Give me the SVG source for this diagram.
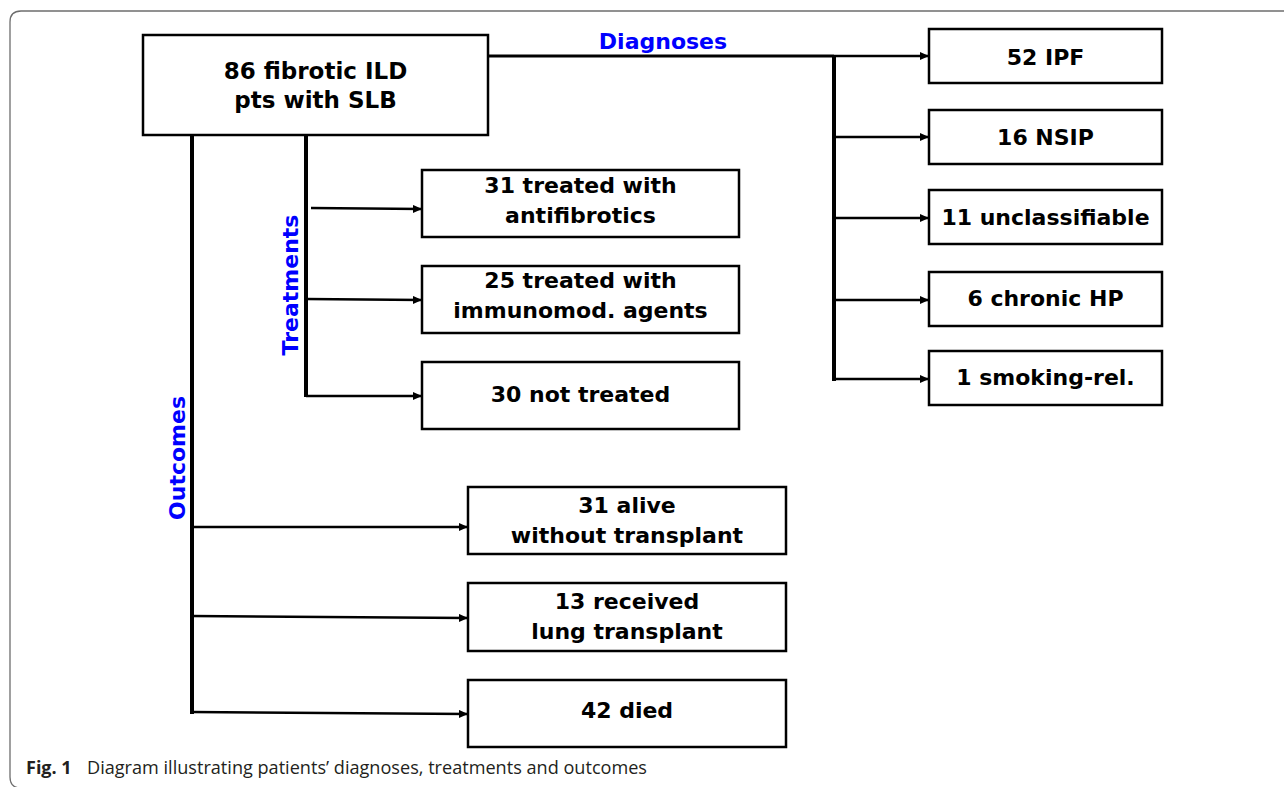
<svg xmlns="http://www.w3.org/2000/svg" width="1284" height="787" viewBox="0 0 1284 787">
<style>
.box{fill:#fff;stroke:#000;stroke-width:2.5}
.t{font-family:"DejaVu Sans",Verdana,sans-serif;font-weight:bold;font-size:22px;fill:#000;text-anchor:middle}
.lbl{font-family:"DejaVu Sans",Verdana,sans-serif;font-weight:bold;font-size:22px;fill:#0000ff;text-anchor:middle}
.trunk{stroke:#000;stroke-width:4;fill:none}
.arr{stroke:#000;stroke-width:2.5;fill:none;marker-end:url(#ah)}
.cap{font-family:"Open Sans","Noto Sans",sans-serif;font-size:18px;fill:#231f20}
</style>
<defs>
<marker id="ah" markerUnits="userSpaceOnUse" markerWidth="10" markerHeight="8" refX="9" refY="4" orient="auto">
<path d="M0,0 L9,4 L0,8 Z" fill="#000"/>
</marker>
</defs>
<rect width="1284" height="787" fill="#fff"/>
<path d="M1284,11 H21 Q10,11 10,22 V777 Q10,788 21,788" fill="none" stroke="#6d6d6d" stroke-width="1.3"/>

<g id="connectors">
<line class="trunk" x1="488" y1="56" x2="834" y2="56" style="stroke-width:3"/>
<path class="arr" d="M834,56 H929"/>
<line class="trunk" x1="834" y1="56" x2="834" y2="381"/>
<path class="arr" d="M834,137 H929"/>
<path class="arr" d="M834,218 H929"/>
<path class="arr" d="M834,300 H929"/>
<path class="arr" d="M834,379 H929"/>
<line class="trunk" x1="306" y1="135" x2="306" y2="397"/>
<path class="arr" d="M311,208 L422,209"/>
<path class="arr" d="M306,299 L422,300"/>
<path class="arr" d="M306,396 H422"/>
<line class="trunk" x1="192" y1="135" x2="192" y2="714"/>
<path class="arr" d="M192,527 H468"/>
<path class="arr" d="M192,616 L468,618"/>
<path class="arr" d="M192,712 L468,714"/>
</g>

<g id="labels">
<text class="lbl" x="663" y="49">Diagnoses</text>
<text class="lbl" transform="translate(298,285) rotate(-90)">Treatments</text>
<text class="lbl" transform="translate(185,458) rotate(-90)">Outcomes</text>
</g>

<g id="n-main">
<rect class="box" x="143" y="35" width="345" height="100"/>
<text class="t" x="315.5" y="79" style="font-size:23px">86 fibrotic ILD</text>
<text class="t" x="315.5" y="108" style="font-size:23px">pts with SLB</text>
</g>

<g id="n-ipf">
<rect class="box" x="929" y="29" width="233" height="54"/>
<text class="t" x="1045.5" y="65">52 IPF</text>
</g>
<g id="n-nsip">
<rect class="box" x="929" y="110" width="233" height="54"/>
<text class="t" x="1045.5" y="145">16 NSIP</text>
</g>
<g id="n-unclass">
<rect class="box" x="929" y="190" width="233" height="54"/>
<text class="t" x="1045.5" y="225">11 unclassifiable</text>
</g>
<g id="n-hp">
<rect class="box" x="929" y="272" width="233" height="54"/>
<text class="t" x="1045.5" y="306">6 chronic HP</text>
</g>
<g id="n-smoking">
<rect class="box" x="929" y="351" width="233" height="54"/>
<text class="t" x="1045.5" y="385">1 smoking-rel.</text>
</g>

<g id="n-antifib">
<rect class="box" x="422" y="170" width="317" height="67"/>
<text class="t" x="580.5" y="193">31 treated with</text>
<text class="t" x="580.5" y="223">antifibrotics</text>
</g>
<g id="n-immuno">
<rect class="box" x="422" y="266" width="317" height="67"/>
<text class="t" x="580.5" y="288">25 treated with</text>
<text class="t" x="580.5" y="318">immunomod. agents</text>
</g>
<g id="n-nottreated">
<rect class="box" x="422" y="362" width="317" height="67"/>
<text class="t" x="580.5" y="402">30 not treated</text>
</g>

<g id="n-alive">
<rect class="box" x="468" y="487" width="318" height="67"/>
<text class="t" x="627" y="513">31 alive</text>
<text class="t" x="627" y="543">without transplant</text>
</g>
<g id="n-transplant">
<rect class="box" x="468" y="583" width="318" height="68"/>
<text class="t" x="627" y="609">13 received</text>
<text class="t" x="627" y="639">lung transplant</text>
</g>
<g id="n-died">
<rect class="box" x="468" y="680" width="318" height="67"/>
<text class="t" x="627" y="718">42 died</text>
</g>

<g id="caption">
<text class="cap" x="26" y="774"><tspan font-weight="bold">Fig. 1</tspan><tspan x="87" textLength="560" lengthAdjust="spacingAndGlyphs">Diagram illustrating patients’ diagnoses, treatments and outcomes</tspan></text>
</g>
</svg>
